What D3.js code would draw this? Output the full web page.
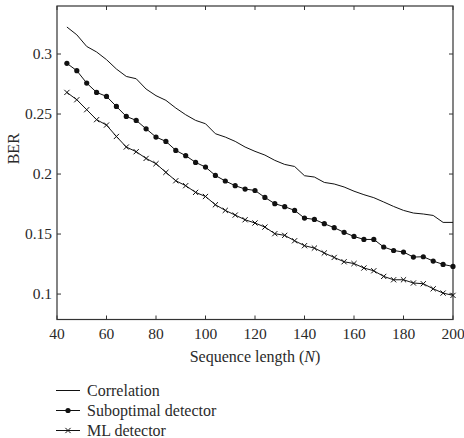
<!DOCTYPE html>
<html>
<head>
<meta charset="utf-8">
<script src="https://cdn.jsdelivr.net/npm/d3@7"></script>
<style>
  html, body { margin: 0; padding: 0; background: #fff; }
  svg { display: block; }
</style>
</head>
<body>
<svg id="chart" width="464" height="438" font-family="'Liberation Serif', Tinos, 'Times New Roman', serif"></svg>
<script>
// ---- data ----
const seqLength = [44,48,52,56,60,64,68,72,76,80,84,88,92,96,100,104,108,112,116,120,
                   124,128,132,136,140,144,148,152,156,160,164,168,172,176,180,184,188,192,196,200];
const correlation = [0.3225,0.3160,0.3063,0.3017,0.2953,0.2875,0.2813,0.2794,0.2708,0.2653,
                     0.2614,0.2550,0.2494,0.2447,0.2419,0.2336,0.2308,0.2272,0.2225,0.2189,
                     0.2158,0.2114,0.2080,0.2063,0.1986,0.1975,0.1930,0.1917,0.1892,0.1857,
                     0.1828,0.1803,0.1767,0.1730,0.1697,0.1675,0.1667,0.1655,0.1597,0.1597];
const suboptimal = [0.2922,0.2861,0.2758,0.2680,0.2647,0.2563,0.2480,0.2447,0.2377,0.2308,
                    0.2272,0.2197,0.2153,0.2097,0.2058,0.1988,0.1942,0.1903,0.1875,0.1863,
                    0.1805,0.1753,0.1728,0.1697,0.1633,0.1622,0.1586,0.1553,0.1514,0.1480,
                    0.1455,0.1455,0.1392,0.1363,0.1350,0.1308,0.1311,0.1275,0.1247,0.1230];
const mlDetector = [0.2680,0.2619,0.2536,0.2453,0.2408,0.2313,0.2225,0.2186,0.2130,0.2086,
                    0.2014,0.1944,0.1903,0.1847,0.1813,0.1744,0.1697,0.1658,0.1619,0.1592,
                    0.1558,0.1503,0.1489,0.1444,0.1403,0.1383,0.1342,0.1305,0.1269,0.1254,
                    0.1217,0.1194,0.1147,0.1119,0.1119,0.1092,0.1086,0.1044,0.1008,0.0989];
const xTicks = [40,60,80,100,120,140,160,180,200];
const yTicks = [0.1,0.15,0.2,0.25,0.3];
const yTickLabels = ["0.1","0.15","0.2","0.25","0.3"];
const seriesNames = ["Correlation","Suboptimal detector","ML detector"];
const xLabel = "Sequence length (";
const yLabel = "BER";

// ---- layout ----
const svg = d3.select("#chart");
const L = 57, R = 453, T = 6, B = 319.5;
const x = d3.scaleLinear().domain([40,200]).range([L,R]);
const y = d3.scaleLinear().domain([0.0788,0.34]).range([B,T]);
const tickLen = 4;
const axisColor = "#333";
const txt = "#2a2a2a";
const fs = 15.5;
const fsL = 16;

// box
svg.append("rect").attr("x",L).attr("y",T).attr("width",R-L).attr("height",B-T)
  .attr("fill","none").attr("stroke",axisColor).attr("stroke-width",1.2);

// x ticks (inward on bottom and top)
const gx = svg.append("g");
xTicks.forEach(t => {
  gx.append("line").attr("x1",x(t)).attr("x2",x(t)).attr("y1",B).attr("y2",B-tickLen)
    .attr("stroke",axisColor).attr("stroke-width",1);
  gx.append("line").attr("x1",x(t)).attr("x2",x(t)).attr("y1",T).attr("y2",T+tickLen)
    .attr("stroke",axisColor).attr("stroke-width",1);
  gx.append("text").attr("x",x(t)).attr("y",B+19).attr("text-anchor","middle")
    .attr("font-size",fs).attr("fill",txt).text(t);
});
// y ticks
const gy = svg.append("g");
yTicks.forEach((t,i) => {
  gy.append("line").attr("x1",L).attr("x2",L+tickLen).attr("y1",y(t)).attr("y2",y(t))
    .attr("stroke",axisColor).attr("stroke-width",1);
  gy.append("line").attr("x1",R).attr("x2",R-tickLen).attr("y1",y(t)).attr("y2",y(t))
    .attr("stroke",axisColor).attr("stroke-width",1);
  gy.append("text").attr("x",L-5).attr("y",y(t)+5).attr("text-anchor","end")
    .attr("font-size",fs).attr("fill",txt).text(yTickLabels[i]);
});

// axis labels
const xl = svg.append("text").attr("x",(L+R)/2).attr("y",362).attr("text-anchor","middle")
  .attr("font-size",fsL).attr("fill",txt);
xl.append("tspan").text(xLabel);
xl.append("tspan").attr("font-style","italic").text("N");
xl.append("tspan").text(")");
svg.append("text").attr("transform",`translate(19,${(T+B)/2-14}) rotate(-90)`)
  .attr("text-anchor","middle").attr("font-size",fsL).attr("fill",txt).text(yLabel);

// lines
const line = d3.line().x(d => x(d[0])).y(d => y(d[1]));
const allSeries = [correlation, suboptimal, mlDetector];
allSeries.forEach(s => {
  svg.append("path").datum(seqLength.map((n,i)=>[n,s[i]]))
    .attr("d",line).attr("fill","none").attr("stroke","#111").attr("stroke-width",1);
});
// markers
svg.append("g").selectAll("circle").data(seqLength.map((n,i)=>[n,suboptimal[i]]))
  .join("circle").attr("cx",d=>x(d[0])).attr("cy",d=>y(d[1])).attr("r",2.6).attr("fill","#111");
const cs = 2.6;
svg.append("g").selectAll("path").data(seqLength.map((n,i)=>[n,mlDetector[i]]))
  .join("path")
  .attr("d",d=>{const cx=x(d[0]), cy=y(d[1]);
    return `M${cx-cs},${cy-cs}L${cx+cs},${cy+cs}M${cx-cs},${cy+cs}L${cx+cs},${cy-cs}`;})
  .attr("stroke","#111").attr("stroke-width",1).attr("fill","none");

// legend
const legY = [390.5, 410.5, 430.5];
seriesNames.forEach((name,i) => {
  const g = svg.append("g");
  g.append("line").attr("x1",56).attr("x2",80).attr("y1",legY[i]).attr("y2",legY[i])
    .attr("stroke","#111").attr("stroke-width",1);
  if (i===1) g.append("circle").attr("cx",68).attr("cy",legY[i]).attr("r",2.6).attr("fill","#111");
  if (i===2) g.append("path")
    .attr("d",`M${68-cs},${legY[i]-cs}L${68+cs},${legY[i]+cs}M${68-cs},${legY[i]+cs}L${68+cs},${legY[i]-cs}`)
    .attr("stroke","#111").attr("stroke-width",1);
  g.append("text").attr("x",87).attr("y",legY[i]+5).attr("font-size",fsL).attr("fill",txt).text(name);
});
</script>
</body>
</html>
